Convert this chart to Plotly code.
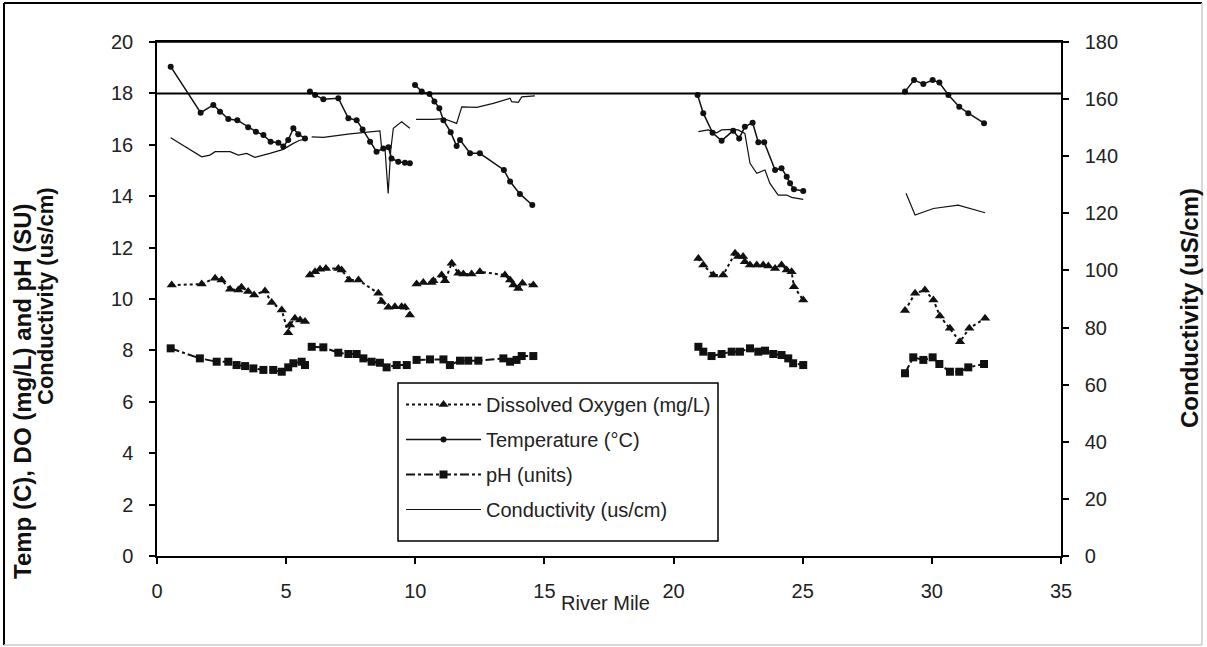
import plotly.graph_objects as go

# ---------------- data ----------------
# None values separate the survey segments (no line across gaps)
temp_mile = [0.53, 1.69, 2.18, 2.44, 2.76, 3.11, 3.53, 3.83, 4.12, 4.40, 4.70, 4.89, 5.08, 5.28, 5.47, 5.73, None,
             5.92, 6.12, 6.44, 7.02, 7.41, 7.73, 7.96, 8.25, 8.50, 8.76, 8.96, 9.08, 9.34, 9.60, 9.79, None,
             9.99, 10.25, 10.55, 10.74, 10.93, 11.09, 11.37, 11.60, 11.73, 12.12, 12.50, 13.43, 13.67, 14.05, 14.53, None,
             20.93, 21.15, 21.51, 21.86, 22.31, 22.54, 22.76, 23.06, 23.28, 23.51, 23.93, 24.18, 24.38, 24.51, 24.66, 25.02, None,
             28.96, 29.31, 29.67, 30.03, 30.29, 30.64, 31.06, 31.41, 32.02]
temp_val = [19.04, 17.25, 17.55, 17.29, 17.00, 16.96, 16.68, 16.51, 16.38, 16.12, 16.08, 15.93, 16.19, 16.64, 16.41, 16.25, None,
            18.07, 17.94, 17.77, 17.81, 17.03, 16.96, 16.60, 16.12, 15.73, 15.86, 15.90, 15.47, 15.34, 15.30, 15.28, None,
            18.33, 18.07, 17.98, 17.68, 17.42, 16.96, 16.49, 15.95, 16.19, 15.67, 15.67, 15.02, 14.57, 14.09, 13.66, None,
            17.94, 17.23, 16.47, 16.16, 16.55, 16.25, 16.70, 16.86, 16.10, 16.10, 15.02, 15.09, 14.76, 14.50, 14.27, 14.20, None,
            18.07, 18.52, 18.37, 18.52, 18.42, 17.94, 17.48, 17.23, 16.84]

do_mile = [0.57, 1.73, 2.25, 2.50, 2.83, 3.15, 3.27, 3.53, 3.76, 4.18, 4.44, 4.83, 5.08, 5.15, 5.34, 5.54, 5.73, None,
           5.92, 6.12, 6.31, 6.54, 7.02, 7.15, 7.44, 7.80, 8.57, 8.70, 8.96, 9.21, 9.47, 9.60, 9.79, None,
           10.05, 10.31, 10.63, 10.70, 11.02, 11.15, 11.41, 11.67, 11.86, 12.18, 12.50, 13.47, 13.67, 13.80, 13.99, 14.15, 14.57, None,
           20.96, 21.15, 21.54, 21.92, 22.38, 22.50, 22.69, 22.76, 22.96, 23.22, 23.47, 23.67, 23.93, 24.18, 24.38, 24.57, 24.66, 25.02, None,
           28.96, 29.35, 29.73, 30.06, 30.31, 30.70, 31.09, 31.45, 32.06]
do_val = [10.54, 10.58, 10.81, 10.74, 10.38, 10.35, 10.46, 10.29, 10.16, 10.31, 9.86, 9.57, 8.69, 8.99, 9.25, 9.18, 9.12, None,
          10.93, 11.06, 11.16, 11.19, 11.19, 11.13, 10.74, 10.74, 10.22, 9.90, 9.68, 9.70, 9.70, 9.68, 9.38, None,
          10.58, 10.64, 10.64, 10.71, 10.93, 10.71, 11.39, 11.00, 10.97, 10.97, 11.06, 10.93, 10.74, 10.54, 10.41, 10.61, 10.54, None,
          11.58, 11.32, 10.93, 10.93, 11.78, 11.65, 11.65, 11.45, 11.32, 11.32, 11.32, 11.28, 11.19, 11.32, 11.13, 11.06, 10.48, 9.96, None,
          9.55, 10.22, 10.35, 9.96, 9.34, 8.86, 8.34, 8.86, 9.25]

ph_mile = [0.53, 1.66, 2.31, 2.76, 3.08, 3.41, 3.73, 4.12, 4.50, 4.83, 5.08, 5.28, 5.60, 5.73, None,
           5.99, 6.44, 7.02, 7.41, 7.73, 7.99, 8.31, 8.63, 8.89, 9.28, 9.67, None,
           10.05, 10.57, 11.09, 11.34, 11.73, 12.05, 12.44, 13.41, 13.67, 13.92, 14.12, 14.57, None,
           20.96, 21.15, 21.47, 21.86, 22.25, 22.57, 22.96, 23.28, 23.54, 23.86, 24.18, 24.44, 24.63, 25.02, None,
           28.96, 29.28, 29.67, 30.03, 30.29, 30.70, 31.06, 31.41, 32.02]
ph_val = [8.08, 7.69, 7.56, 7.56, 7.43, 7.39, 7.30, 7.24, 7.24, 7.17, 7.34, 7.50, 7.56, 7.43, None,
          8.14, 8.12, 7.91, 7.86, 7.86, 7.69, 7.56, 7.52, 7.34, 7.43, 7.43, None,
          7.63, 7.65, 7.65, 7.43, 7.60, 7.60, 7.60, 7.69, 7.56, 7.63, 7.78, 7.78, None,
          8.14, 7.95, 7.78, 7.86, 7.95, 7.95, 8.08, 7.95, 7.99, 7.86, 7.82, 7.69, 7.50, 7.43, None,
          7.11, 7.73, 7.63, 7.73, 7.47, 7.17, 7.17, 7.34, 7.47]

cond_mile = [0.53, 1.73, 2.05, 2.25, 2.83, 3.15, 3.47, 3.79, 4.37, 4.89, 5.28, 5.50, 5.75, None,
             5.99, 6.44, 7.47, 8.63, 8.70, 8.83, 8.95, 9.05, 9.15, 9.47, 9.79, None,
             10.03, 10.70, 11.09, 11.60, 11.80, 12.38, 13.02, 13.67, 13.73, 13.99, 14.12, 14.63, None,
             20.96, 21.34, 21.67, 21.86, 22.31, 22.50, 22.76, 22.96, 23.22, 23.54, 23.73, 24.05, 24.38, 24.57, 25.02, None,
             29.00, 29.35, 30.06, 31.02, 32.06]
cond_val = [146.5, 139.8, 140.4, 141.6, 141.6, 140.4, 141.0, 139.6, 141.0, 142.4, 144.5, 145.5, 146.0, None,
            146.8, 146.6, 147.8, 148.9, 142.7, 142.2, 127.0, 142.2, 149.8, 152.1, 149.8, None,
            152.9, 152.9, 153.2, 151.5, 157.3, 157.1, 158.5, 160.3, 159.1, 158.9, 160.8, 161.1, None,
            148.6, 149.2, 148.2, 149.2, 149.4, 149.2, 148.0, 137.5, 134.0, 135.2, 130.5, 126.4, 126.4, 125.6, 124.9, None,
            127.0, 119.4, 121.7, 122.9, 120.2]

ref_temp = 18  # horizontal reference line (temperature criterion)

left_ticks = list(range(0, 21, 2))
right_ticks = list(range(0, 181, 20))
x_ticks = list(range(0, 36, 5))

# ---------------- figure ----------------
FONT = "Liberation Sans, Arial, sans-serif"
INK = "#111111"

fig = go.Figure()

fig.add_trace(go.Scatter(
    x=do_mile, y=do_val, name="Dissolved Oxygen (mg/L)", legendgroup="do",
    mode="lines+markers", connectgaps=False,
    line=dict(color=INK, width=2, dash="dot"),
    marker=dict(symbol="triangle-up", size=9, color=INK)))

fig.add_trace(go.Scatter(
    x=temp_mile, y=temp_val, name="Temperature (°C)", legendgroup="temp",
    mode="lines+markers", connectgaps=False,
    line=dict(color=INK, width=1.5),
    marker=dict(symbol="circle", size=6, color=INK)))

fig.add_trace(go.Scatter(
    x=ph_mile, y=ph_val, name="pH (units)", legendgroup="ph",
    mode="lines+markers", connectgaps=False,
    line=dict(color=INK, width=2, dash="dashdot"),
    marker=dict(symbol="square", size=8, color=INK)))

fig.add_trace(go.Scatter(
    x=cond_mile, y=cond_val, name="Conductivity (us/cm)", legendgroup="cond",
    mode="lines", connectgaps=False, yaxis="y2",
    line=dict(color=INK, width=1.2)))

axis_common = dict(
    showline=True, linecolor="black", linewidth=1.5,
    ticks="outside", ticklen=6, tickcolor="black", tickwidth=1.5,
    showgrid=False, zeroline=False,
    tickfont=dict(family=FONT, size=20, color="#222222"),
)

def px_x(p):
    return (p - 157) / 904

def px_y(p):
    return (556 - p) / 514

fig.update_layout(
    width=1207, height=647,
    margin=dict(l=157, r=146, t=42, b=91),
    paper_bgcolor="white", plot_bgcolor="white",
    font=dict(family=FONT, color="#222222"),
    xaxis=dict(range=[0, 35], tickvals=x_ticks, mirror=True, ticklabelstandoff=10, **axis_common),
    yaxis=dict(range=[0, 20], tickvals=left_ticks, ticklabelstandoff=12, **axis_common),
    yaxis2=dict(range=[0, 180], tickvals=right_ticks, overlaying="y", side="right",
                ticklabelstandoff=12, **axis_common),
    showlegend=True,
    legend=dict(
        x=px_x(401), y=px_y(385), xanchor="left", yanchor="top",
        bgcolor="white", borderwidth=0,
        font=dict(family=FONT, size=20, color="#222222"),
        tracegroupgap=6, itemwidth=75,
    ),
)

# legend frame (box drawn as a shape so its size matches the reference)
fig.add_shape(type="rect", xref="paper", yref="paper",
              x0=px_x(398), x1=px_x(718), y0=px_y(541), y1=px_y(383),
              line=dict(color="black", width=1.5), fillcolor="white", layer="above")
# top border of plot area
fig.add_shape(type="line", xref="paper", yref="paper", x0=0, x1=1, y0=1, y1=1,
              line=dict(color="black", width=1.5))
# temperature criterion line at 18
fig.add_shape(type="line", xref="paper", yref="y", x0=0, x1=1, y0=ref_temp, y1=ref_temp,
              line=dict(color="black", width=2))
# outer frame
fig.add_shape(type="line", xref="paper", yref="paper", x0=px_x(4), x1=px_x(4), y0=px_y(645), y1=px_y(3),
              line=dict(color="black", width=2))
fig.add_shape(type="line", xref="paper", yref="paper", x0=px_x(4), x1=px_x(1202), y0=px_y(3), y1=px_y(3),
              line=dict(color="black", width=2))
fig.add_shape(type="line", xref="paper", yref="paper", x0=px_x(1202), x1=px_x(1202), y0=px_y(645), y1=px_y(3),
              line=dict(color="#cccccc", width=1.5))
fig.add_shape(type="line", xref="paper", yref="paper", x0=px_x(4), x1=px_x(1202), y0=px_y(645), y1=px_y(645),
              line=dict(color="#cccccc", width=1.5))

# axis titles
fig.add_annotation(text="<b>Temp (C), DO (mg/L) and pH (SU)</b>", textangle=-90,
                   xref="paper", yref="paper", x=px_x(22), y=px_y(391),
                   showarrow=False, font=dict(family=FONT, size=24, color="#111111"),
                   xanchor="center", yanchor="middle")
fig.add_annotation(text="<b>Conductivity (us/cm)</b>", textangle=-90,
                   xref="paper", yref="paper", x=px_x(45), y=px_y(296),
                   showarrow=False, font=dict(family=FONT, size=22, color="#111111"),
                   xanchor="center", yanchor="middle")
fig.add_annotation(text="<b>Conductivity (uS/cm)</b>", textangle=-90,
                   xref="paper", yref="paper", x=px_x(1190), y=px_y(308),
                   showarrow=False, font=dict(family=FONT, size=24, color="#111111"),
                   xanchor="center", yanchor="middle")
fig.add_annotation(text="River Mile",
                   xref="paper", yref="paper", x=px_x(605), y=px_y(603),
                   showarrow=False, font=dict(family=FONT, size=20, color="#222222"),
                   xanchor="center", yanchor="middle")

fig.write_html("out.html")
